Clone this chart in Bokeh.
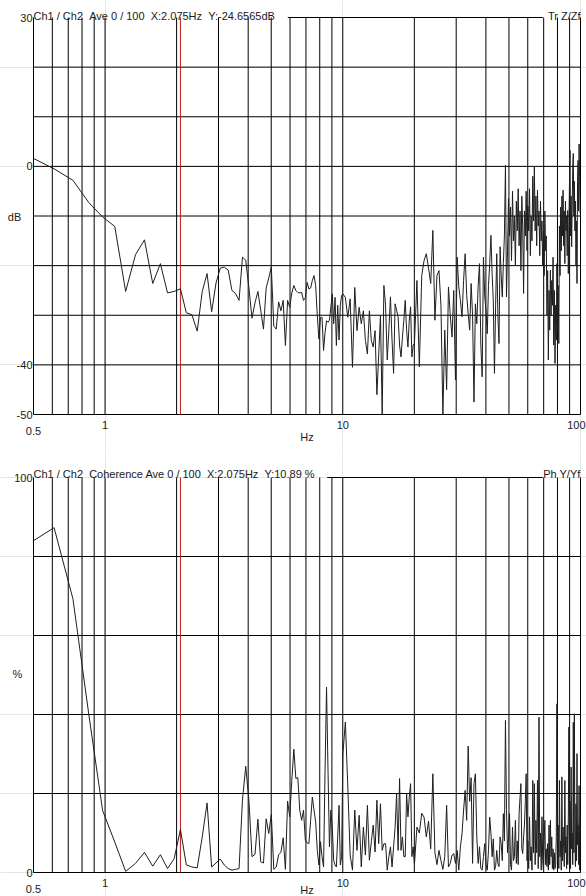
import math
from bokeh.plotting import figure
from bokeh.models import Label
from bokeh.layouts import column
from bokeh.embed import file_html
from bokeh.resources import INLINE

# ---------------- data ----------------
BIN_HZ = 250 / 2048          # analyser frequency resolution
edge_hz = 0.5                # first value is read at the left edge of the axis
bins = list(range(5, 83)) + list(range(84, 163, 2)) + list(range(164, 817, 4))
freq = [edge_hz] + [k * BIN_HZ for k in bins]

# transfer function (dB), 0.5-10 Hz
tf_low = [1.6, -0.5, -2.8, -7.3, -10.2, -12.1, -25.2, -17.8, -14.8, -23.6,
          -19.6, -25.5, -25.2, -24.66, -29.5, -29.9, -33.2, -25.2, -21.6, -29.3,
          -23.5, -20.5, -20.3, -20.9, -25.0, -25.6, -27.0, -18.3, -18.9, -24.5,
          -30.6, -27.5, -25.2, -29.0, -32.8, -24.5, -22.5, -20.3, -32.2, -32.8,
          -27.3, -29.1, -27.0, -36.1, -27.0, -28.4, -25.5, -24.0, -25.0, -25.4,
          -25.5, -25.4, -27.0, -26.5, -23.4, -24.7, -24.5, -23.0, -22.0, -24.0,
          -30.0, -34.8, -30.5, -30.4, -37.1, -33.5, -31.1, -31.4, -31.0, -28.3,
          -25.7, -31.7, -26.4, -36.1, -28.0, -35.0, -28.0, -26.0, -25.7]
# 10-20 Hz
tf_mid = [-26.4, -30.4, -26.7, -40.5, -24.4, -33.1, -28.4, -31.7, -29.1, -35.1,
          -37.8, -29.1, -35.1, -36.4, -33.1, -46.0, -38.0, -30.0, -50.0, -24.0,
          -28.0, -39.0, -33.0, -26.3, -35.0, -41.7, -27.7, -29.0, -30.3, -36.0,
          -38.4, -34.4, -31.0, -27.0, -33.0, -36.4, -31.0, -28.3, -38.4, -36.0]
# 20-100 Hz
tf_high = [-35.7, -23.0, -40.4, -22.0, -19.0, -17.6, -20.5, -23.6, -12.9, -31.0,
           -22.0, -21.0, -28.0, -50.0, -33.0, -45.0, -24.3, -30.0, -34.4, -25.0,
           -43.0, -18.3, -24.3, -27.0, -30.3, -23.0, -17.6, -26.0, -29.7, -33.0,
           -23.6, -30.0, -47.5, -27.7, -31.7, -24.0, -19.6, -36.0, -42.4, -18.3,
           -26.3, -29.0, -33.7, -24.0, -19.6, -13.9, -21.6, -27.0, -41.7, -28.0,
           -17.6, -30.0, -35.7, -16.2, -22.0, -26.3, -19.6, -14.0, 0.2, -26.3,
           -17.0, -6.5, -14.0, -8.2, -19.0, -5.0, -15.0, -10.0, -20.0, -7.0,
           -13.0, -4.5, -16.0, -9.0, -21.0, -6.0, -12.0, -25.6, -9.0, -14.0,
           -5.0, -17.0, -8.0, -13.0, -4.5, -18.0, -10.0, -15.0, -2.0, -11.0,
           -0.1, -13.0, -6.0, -16.0, -4.8, -12.0, -9.0, -18.0, -7.0, -15.0,
           -11.0, -20.0, -13.0, -22.0, -9.0, -17.0, -14.0, -30.0, -21.0, -39.0,
           -25.0, -33.0, -20.9, -30.0, -23.0, -28.0, -18.3, -36.0, -25.0, -39.7,
           -28.0, -35.0, -19.6, -33.0, -24.0, -35.7, -12.0, -22.0, -8.2, -17.0,
           -6.0, -14.0, -4.8, -16.0, -9.0, -19.6, -7.0, -13.0, -10.0, -18.0,
           -8.9, -21.6, -12.0, -4.0, 3.2, -14.0, -6.0, -16.2, -8.0, 0.0,
           2.6, -10.0, -3.0, -13.0, -7.0, -20.0, -11.0, -23.6, -3.0, 1.2,
           -9.0, 4.5, -2.0, -9.5]

# coherence (%), 0.5-10 Hz
coh_low = [84.0, 87.3, 69.3, 40.0, 15.7, 7.7, 0.3, 2.3, 5.1, 1.6,
           4.5, 1.0, 3.5, 10.89, 1.9, 1.4, 1.2, 9.0, 17.6, 1.4,
           2.4, 3.4, 1.9, 1.0, 0.6, 0.8, 1.0, 18.3, 26.9, 18.3,
           4.0, 4.6, 13.5, 2.7, 2.4, 13.6, 9.9, 14.7, 0.8, 1.4,
           4.5, 5.1, 8.8, 0.8, 18.1, 14.1, 23.3, 31.2, 23.8, 24.0,
           15.8, 13.2, 15.8, 8.2, 7.5, 7.3, 13.2, 19.1, 15.8, 12.8,
           5.6, 1.9, 7.8, 4.0, 1.4, 25.9, 46.9, 25.9, 6.5, 15.8,
           11.5, 3.1, 1.9, 1.4, 9.0, 17.0, 1.9, 4.0, 30.0]
# 10-20 Hz
coh_mid = [38.1, 21.7, 4.4, 0.6, 15.8, 5.6, 14.5, 1.4, 11.5, 4.4,
           17.0, 3.1, 7.8, 12.0, 5.2, 18.3, 7.3, 17.4, 5.6, 7.3,
           7.3, 0.6, 4.0, 6.5, 1.4, 6.5, 11.5, 20.0, 5.6, 23.8,
           5.6, 9.0, 4.0, 4.0, 20.0, 14.1, 19.1, 22.5, 4.0, 6.5]
# 20-100 Hz
coh_high = [2.0, 11.5, 10.0, 15.0, 14.0, 9.0, 13.0, 6.0, 25.0, 5.0,
            2.0, 5.6, 3.0, 0.8, 4.0, 17.0, 1.4, 2.3, 4.4, 4.8,
            2.3, 5.6, 0.6, 6.5, 9.8, 15.8, 20.8, 13.2, 32.0, 18.0,
            24.0, 2.3, 22.5, 25.0, 9.0, 2.3, 6.5, 1.0, 0.6, 4.0,
            7.3, 2.0, 0.6, 5.6, 14.0, 10.0, 4.0, 8.5, 0.6, 1.5,
            5.6, 2.3, 1.5, 9.0, 7.3, 3.0, 14.9, 8.0, 38.5, 16.0,
            5.0, 9.0, 14.9, 2.0, 0.6, 11.5, 3.0, 4.0, 13.2, 2.3,
            8.0, 2.0, 14.9, 19.0, 22.5, 6.0, 4.8, 9.0, 12.0, 18.0,
            25.0, 3.0, 8.0, 1.0, 14.1, 3.0, 6.5, 0.6, 23.3, 5.0,
            22.5, 2.0, 13.2, 5.0, 23.3, 1.0, 39.3, 4.0, 10.0, 0.6,
            14.1, 3.0, 0.6, 8.0, 13.2, 2.0, 6.0, 1.5, 7.3, 0.6,
            12.0, 2.0, 13.2, 4.0, 9.0, 1.0, 6.0, 0.6, 5.0, 1.0,
            2.0, 9.0, 42.7, 3.0, 12.0, 1.0, 23.3, 4.0, 8.0, 0.6,
            24.2, 3.0, 11.5, 6.0, 1.5, 23.3, 5.0, 9.0, 1.0, 12.0,
            2.0, 14.0, 36.8, 4.0, 18.0, 1.0, 26.7, 6.0, 10.0, 2.0,
            38.0, 5.0, 40.2, 8.0, 1.5, 17.4, 3.0, 30.1, 7.0, 12.0,
            2.0, 22.0, 0.6, 14.0]

tf_db = tf_low + tf_mid + tf_high
coh_pct = coh_low + coh_mid + coh_high

x_grid = [0.5, 0.6, 0.7, 0.8, 0.9, 1, 2, 3, 4, 5, 6, 7, 8, 9, 10,
          20, 30, 40, 50, 60, 70, 80, 90, 100]
x_tick_labels = {0.5: "0.5", 1: "1", 10: "10", 100: "100"}
db_grid = [20, 10, 0, -10, -20, -30, -40, -50]
db_tick_labels = {30: "30", 0: "0", -40: "-40", -50: "-50"}
pct_grid = [80, 60, 40, 20, 0]
pct_tick_labels = {100: "100", 0: "0"}
cursor_hz = 2.075

# double gaps kept with a no-break space so the SVG text does not collapse them
top_header = "Ch1 / Ch2 \u00a0Ave 0 / 100 \u00a0X:2.075Hz \u00a0Y:-24.6565dB"
top_right = "Tr Z/Zf"
bot_header = "Ch1 / Ch2 \u00a0Coherence Ave 0 / 100 \u00a0X:2.075Hz \u00a0Y:10.89 %"
bot_right = "Ph Y/Yf"

# ---------------- layout (pixels) ----------------
FONT = "Liberation Sans"
TXT = "#1a1a1a"
W = 586
X0, X1 = 0.5, 100.0
AX_LEFT, AX_RIGHT = 33, 580                 # px of 0.5 Hz and 100 Hz
PX_DEC = (AX_RIGHT - AX_LEFT) / math.log10(X1 / X0)


def hz_at(px):
    return X0 * 10 ** ((px - AX_LEFT) / PX_DEC)


class Panel:
    def __init__(self, height, top_px, bot_px, ylo, yhi):
        self.ppu = (bot_px - top_px) / (yhi - ylo)
        self.top_px, self.yhi, self.ylo = top_px, yhi, ylo
        y_end = yhi + top_px / self.ppu
        y_start = ylo - (height - bot_px) / self.ppu
        self.p = figure(width=W, height=height, x_axis_type="log",
                        x_range=(hz_at(0), hz_at(W)), y_range=(y_start, y_end),
                        x_axis_location=None, y_axis_location=None,
                        toolbar_location=None, output_backend="svg",
                        min_border=0)
        self.p.outline_line_color = None
        self.p.background_fill_color = "white"
        self.p.border_fill_color = "white"

    def y_at(self, py):
        return self.yhi - (py - self.top_px) / self.ppu

    def lab(self, x, y, text, align="left", baseline="middle", xo=0):
        self.p.add_layout(Label(x=x, y=y, text=text, text_align=align,
                                text_baseline=baseline, x_offset=xo,
                                text_font=FONT, text_font_size="11px",
                                text_color=TXT))


def draw_panel(pn, hgrid, ylabels, unit, unit_py, unit_px, yvals,
               header, header_base, right, top_from,
               tick_base, half_base, hz_base):
    p, ylo, yhi = pn.p, pn.ylo, pn.yhi
    n = len(x_grid)
    p.segment(x0=x_grid, y0=[ylo] * n, x1=x_grid, y1=[yhi] * n,
              line_color="black", line_width=1)
    m = len(hgrid)
    p.segment(x0=[X0] * m, y0=hgrid, x1=[X1] * m, y1=hgrid,
              line_color="black", line_width=1)
    p.segment(x0=[top_from], y0=[yhi], x1=[hz_at(542.3)], y1=[yhi],
              line_color="black", line_width=1)
    p.segment(x0=[cursor_hz], y0=[ylo], x1=[cursor_hz], y1=[yhi],
              line_color="#c0181c", line_width=1)
    p.line(freq, yvals, line_color="#1e1e1e", line_width=1)

    for v, t in ylabels.items():
        pn.lab(X0, v, t, align="right", xo=-1)
    pn.lab(hz_at(unit_px), pn.y_at(unit_py), unit, align="center")
    for v, t in x_tick_labels.items():
        if v == 0.5:
            pn.lab(v, pn.y_at(half_base), t, align="center", baseline="alphabetic")
        elif v == 100:
            pn.lab(hz_at(585), pn.y_at(tick_base), t, align="right", baseline="alphabetic")
        else:
            pn.lab(v, pn.y_at(tick_base), t, align="center", baseline="alphabetic")
    pn.lab(hz_at(306.5), pn.y_at(hz_base), "Hz", align="center", baseline="alphabetic")
    pn.lab(X0, pn.y_at(header_base), header, baseline="alphabetic")
    pn.lab(X1, pn.y_at(header_base), right, align="right", baseline="alphabetic")


top = Panel(448, 17, 414, -50, 30)
draw_panel(top, db_grid, db_tick_labels, "dB", 216.5, 14, tf_db,
           top_header, 15.7, top_right, hz_at(287.3), 424, 430, 436.5)

bot = Panel(448, 477 - 448, 872 - 448, 0, 100)
draw_panel(bot, pct_grid, pct_tick_labels, "%", 673 - 448, 17, coh_pct,
           bot_header, 473.3 - 448, bot_right, hz_at(326.7),
           882.3 - 448, 888.3 - 448, 889.5 - 448)

layout = column(top.p, bot.p, spacing=0)
html = file_html(layout, INLINE, "chart")
open("out.html", "w").write(html)
